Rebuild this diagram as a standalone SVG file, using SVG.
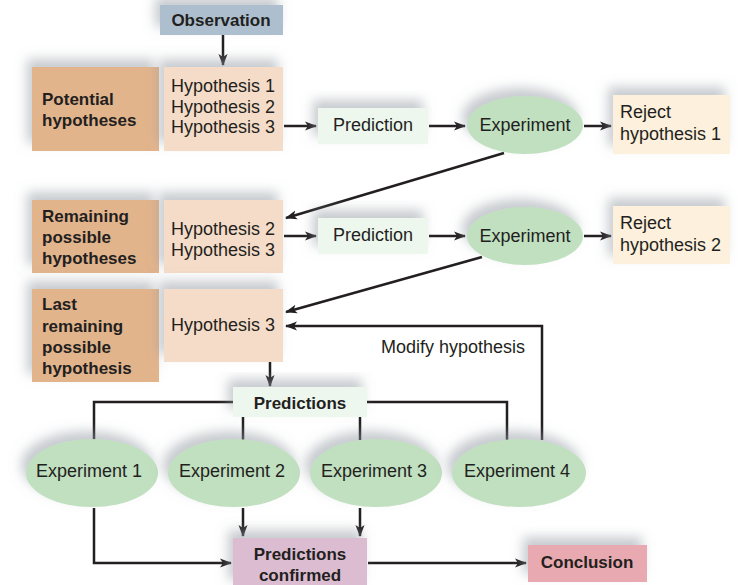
<svg xmlns="http://www.w3.org/2000/svg" width="738" height="585" viewBox="0 0 738 585">
<style>
text{font-family:"Liberation Sans",Arial,sans-serif;fill:#231f20;font-size:18px}
.b{font-weight:bold;font-size:17px}
.m{text-anchor:middle}
.ln{fill:none;stroke:#231f20;stroke-width:2.5}
.lab{fill:#e2b48c}
.hyp{fill:#f5dcc8}
.pred{fill:#eef7ee}
.exp{fill:#c0e0c0}
.rej{fill:#fdf0dc}
</style>
<defs>
<filter id="sh" x="-30%" y="-50%" width="160%" height="200%">
<feDropShadow dx="-5" dy="-8" stdDeviation="6" flood-color="#8e959e" flood-opacity="0.5"/>
</filter>
<marker id="ah" markerUnits="userSpaceOnUse" markerWidth="12" markerHeight="10" refX="11" refY="5" orient="auto">
<path d="M0,0.5 L12,5 L0,9.5 L3,5 z" fill="#231f20"/>
</marker>
</defs>
<g id="connectors">
<path class="ln" d="M223,35 V65" marker-end="url(#ah)"/>
<path class="ln" d="M284,126 H316" marker-end="url(#ah)"/>
<path class="ln" d="M429,126 H465" marker-end="url(#ah)"/>
<path class="ln" d="M584,126 H611" marker-end="url(#ah)"/>
<path class="ln" d="M504,153 L286,218" marker-end="url(#ah)"/>
<path class="ln" d="M284,236 H316" marker-end="url(#ah)"/>
<path class="ln" d="M429,236 H465" marker-end="url(#ah)"/>
<path class="ln" d="M584,236 H611" marker-end="url(#ah)"/>
<path class="ln" d="M482,257 L286,312" marker-end="url(#ah)"/>
<path class="ln" d="M542,440 V326 H286" marker-end="url(#ah)"/>
<path class="ln" d="M270,362 V386" marker-end="url(#ah)"/>
<path class="ln" d="M233,402 H94 V440"/>
<path class="ln" d="M367,402 H507 V440"/>
<path class="ln" d="M243,417 V440"/>
<path class="ln" d="M360,417 V440"/>
<path class="ln" d="M243,508 V536" marker-end="url(#ah)"/>
<path class="ln" d="M360,508 V536" marker-end="url(#ah)"/>
<path class="ln" d="M94,508 V563 H231" marker-end="url(#ah)"/>
<path class="ln" d="M368,563 H526" marker-end="url(#ah)"/>
</g>
<g id="observation">
<rect x="160" y="5" width="123" height="30" fill="#adbfcf" filter="url(#sh)"/>
<text x="221" y="26" class="b m">Observation</text>
</g>
<g id="potential-label">
<rect x="32" y="67" width="127" height="84" class="lab" filter="url(#sh)"/>
<text x="42" y="105" class="b">Potential</text>
<text x="42" y="126" class="b">hypotheses</text>
</g>
<g id="potential-list">
<rect x="164" y="67" width="119" height="84" class="hyp" filter="url(#sh)"/>
<text x="171" y="92">Hypothesis 1</text>
<text x="171" y="113">Hypothesis 2</text>
<text x="171" y="133">Hypothesis 3</text>
</g>
<g id="prediction1">
<rect x="318" y="108" width="110" height="36" class="pred" filter="url(#sh)"/>
<text x="373" y="131" class="m">Prediction</text>
</g>
<g id="experiment1">
<ellipse cx="525" cy="125" rx="58" ry="29" class="exp" filter="url(#sh)"/>
<text x="525" y="131" class="m">Experiment</text>
</g>
<g id="reject1">
<rect x="613" y="95" width="117" height="59" class="rej" filter="url(#sh)"/>
<text x="620" y="118">Reject</text>
<text x="620" y="140">hypothesis 1</text>
</g>
<g id="remaining-label">
<rect x="32" y="200" width="127" height="73" class="lab" filter="url(#sh)"/>
<text x="42" y="222" class="b">Remaining</text>
<text x="42" y="243" class="b">possible</text>
<text x="42" y="264" class="b">hypotheses</text>
</g>
<g id="remaining-list">
<rect x="164" y="200" width="119" height="73" class="hyp" filter="url(#sh)"/>
<text x="171" y="235">Hypothesis 2</text>
<text x="171" y="256">Hypothesis 3</text>
</g>
<g id="prediction2">
<rect x="318" y="218" width="110" height="36" class="pred" filter="url(#sh)"/>
<text x="373" y="241" class="m">Prediction</text>
</g>
<g id="experiment2">
<ellipse cx="525" cy="236" rx="58" ry="29" class="exp" filter="url(#sh)"/>
<text x="525" y="242" class="m">Experiment</text>
</g>
<g id="reject2">
<rect x="613" y="206" width="117" height="58" class="rej" filter="url(#sh)"/>
<text x="620" y="229">Reject</text>
<text x="620" y="251">hypothesis 2</text>
</g>
<g id="last-label">
<rect x="32" y="289" width="127" height="93" class="lab" filter="url(#sh)"/>
<text x="42" y="310" class="b">Last</text>
<text x="42" y="332" class="b">remaining</text>
<text x="42" y="353" class="b">possible</text>
<text x="42" y="374" class="b">hypothesis</text>
</g>
<g id="last-list">
<rect x="164" y="289" width="119" height="73" class="hyp" filter="url(#sh)"/>
<text x="171" y="331">Hypothesis 3</text>
</g>
<g id="modify-label">
<text x="453" y="353" class="m">Modify hypothesis</text>
</g>
<g id="predictions">
<rect x="233" y="387" width="134" height="30" class="pred" filter="url(#sh)"/>
<text x="300" y="409" class="b m">Predictions</text>
</g>
<g id="exp-1">
<ellipse cx="92" cy="473" rx="66" ry="34" class="exp" filter="url(#sh)"/>
<text x="89" y="477" class="m">Experiment 1</text>
</g>
<g id="exp-2">
<ellipse cx="234" cy="473" rx="66" ry="34" class="exp" filter="url(#sh)"/>
<text x="232" y="477" class="m">Experiment 2</text>
</g>
<g id="exp-3">
<ellipse cx="376" cy="473" rx="66" ry="34" class="exp" filter="url(#sh)"/>
<text x="374" y="477" class="m">Experiment 3</text>
</g>
<g id="exp-4">
<ellipse cx="519" cy="473" rx="67" ry="34" class="exp" filter="url(#sh)"/>
<text x="517" y="477" class="m">Experiment 4</text>
</g>
<g id="confirmed">
<rect x="233" y="538" width="134" height="50" fill="#dcbcd0" filter="url(#sh)"/>
<text x="300" y="560" class="b m">Predictions</text>
<text x="300" y="581" class="b m">confirmed</text>
</g>
<g id="conclusion">
<rect x="528" y="545" width="119" height="37" fill="#e8aab0" filter="url(#sh)"/>
<text x="587" y="568" class="b m">Conclusion</text>
</g>
</svg>
